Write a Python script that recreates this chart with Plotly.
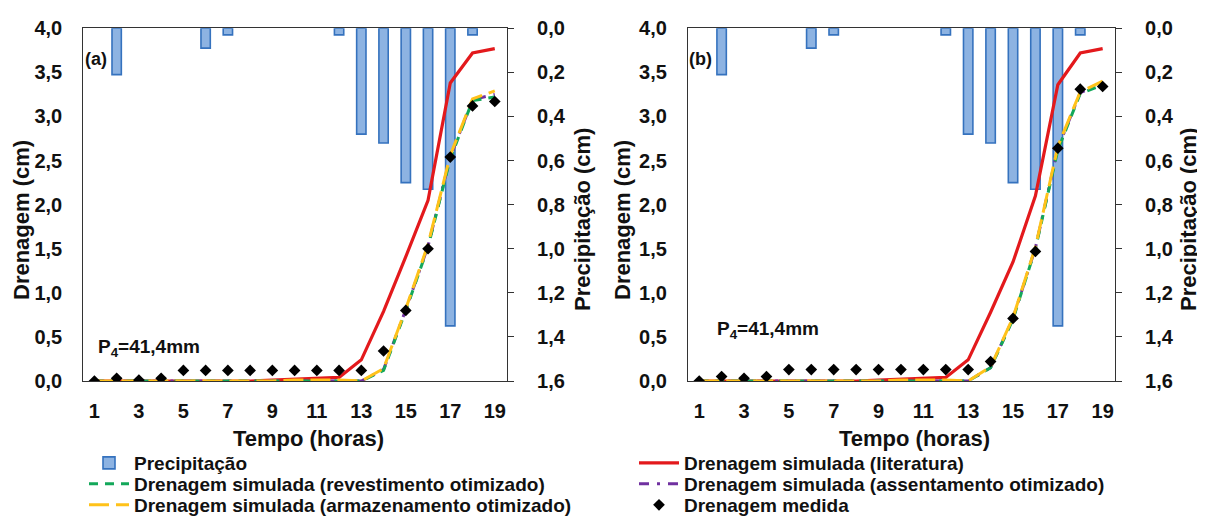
import plotly.graph_objects as go

# ---------------- data ----------------
hours = list(range(1, 20))
hour_ticks = [1, 3, 5, 7, 9, 11, 13, 15, 17, 19]

precip_a = [0, 0.21, 0, 0, 0, 0.09, 0.03, 0, 0, 0, 0, 0.03, 0.48, 0.52, 0.70, 0.73, 1.35, 0.03, 0]
precip_b = [0, 0.21, 0, 0, 0, 0.09, 0.03, 0, 0, 0, 0, 0.03, 0.48, 0.52, 0.70, 0.73, 1.35, 0.03, 0]

lit_a = [0, 0, 0, 0, 0, 0, 0, 0, 0.01, 0.02, 0.03, 0.04, 0.24, 0.79, 1.41, 2.05, 3.38, 3.72, 3.77]
rev_a = [0, 0, 0, 0, 0, 0, 0, 0, 0, 0, 0, 0, 0, 0.12, 0.80, 1.52, 2.52, 3.18, 3.22]
ass_a = [0, 0, 0, 0, 0, 0, 0, 0, 0, 0, 0, 0, 0, 0.13, 0.81, 1.53, 2.54, 3.19, 3.25]
arm_a = [0, 0, 0, 0, 0, 0, 0, 0, 0, 0.01, 0.01, 0.01, 0, 0.14, 0.82, 1.55, 2.56, 3.20, 3.29]
med_a = [0, 0.03, 0.01, 0.03, 0.12, 0.12, 0.12, 0.12, 0.12, 0.12, 0.12, 0.12, 0.12, 0.34, 0.80, 1.50, 2.54, 3.12, 3.17]

lit_b = [0, 0, 0, 0, 0, 0, 0, 0, 0.01, 0.02, 0.03, 0.04, 0.24, 0.78, 1.35, 2.10, 3.36, 3.72, 3.77]
rev_b = [0, 0, 0, 0, 0, 0, 0, 0, 0, 0, 0, 0, 0, 0.15, 0.70, 1.50, 2.62, 3.26, 3.36]
ass_b = [0, 0, 0, 0, 0, 0, 0, 0, 0, 0, 0, 0, 0, 0.15, 0.71, 1.51, 2.64, 3.27, 3.38]
arm_b = [0, 0, 0, 0, 0, 0, 0, 0, 0, 0.01, 0.01, 0.01, 0, 0.16, 0.72, 1.52, 2.66, 3.28, 3.40]
med_b = [0, 0.05, 0.03, 0.05, 0.13, 0.13, 0.13, 0.13, 0.13, 0.13, 0.13, 0.13, 0.13, 0.22, 0.71, 1.47, 2.64, 3.31, 3.34]

names = {
    "precip": "Precipitação",
    "lit": "Drenagem simulada (literatura)",
    "rev": "Drenagem simulada (revestimento otimizado)",
    "ass": "Drenagem simulada (assentamento otimizado)",
    "arm": "Drenagem simulada (armazenamento otimizado)",
    "med": "Drenagem medida",
}

# ---------------- styles ----------------
FONT = "Liberation Sans, Arial, sans-serif"
C_BAR = "#8DB3E2"
C_BAR_LINE = "#3572BE"
C_RED = "#E3191C"
C_GREEN = "#13A85A"
C_PURPLE = "#7030A0"
C_YELLOW = "#FFC21A"
C_AX = "#333333"

# page body has an 8px margin: figure coordinates = window coordinates - 8
OFF = 8
W, H = 1205 - OFF, 516 - OFF


def px(xw):
    return (xw - OFF) / W


def py(yw):
    return 1 - (yw - OFF) / H


# one legend per entry so each item sits where the reference puts it
LEG = {"precip": "legend", "rev": "legend2", "arm": "legend3",
       "lit": "legend4", "ass": "legend5", "med": "legend6"}

fig = go.Figure()


def add_panel(xa, ya_p, ya_d, precip, lit, rev, ass, arm, med, show):
    bars = [v if v > 0 else None for v in precip]
    fig.add_trace(go.Bar(x=hours, y=bars, name=names["precip"], xaxis=xa, yaxis=ya_p,
                         width=0.42, marker=dict(color=C_BAR, line=dict(color=C_BAR_LINE, width=1.6)),
                         showlegend=show, legend=LEG["precip"]))
    fig.add_trace(go.Scatter(x=hours, y=lit, name=names["lit"], mode="lines", xaxis=xa, yaxis=ya_d,
                             line=dict(color=C_RED, width=3.2), showlegend=show, legend=LEG["lit"]))
    fig.add_trace(go.Scatter(x=hours, y=ass, name=names["ass"], mode="lines", xaxis=xa, yaxis=ya_d,
                             line=dict(color=C_PURPLE, width=3, dash="10px,8px,3px,8px"),
                             showlegend=show, legend=LEG["ass"]))
    fig.add_trace(go.Scatter(x=hours, y=rev, name=names["rev"], mode="lines", xaxis=xa, yaxis=ya_d,
                             line=dict(color=C_GREEN, width=3, dash="9px,7px"),
                             showlegend=show, legend=LEG["rev"]))
    fig.add_trace(go.Scatter(x=hours, y=arm, name=names["arm"], mode="lines", xaxis=xa, yaxis=ya_d,
                             line=dict(color=C_YELLOW, width=3, dash="20px,7px"),
                             showlegend=show, legend=LEG["arm"]))
    fig.add_trace(go.Scatter(x=hours, y=med, name=names["med"], mode="markers", xaxis=xa, yaxis=ya_d,
                             marker=dict(symbol="diamond", color="black", size=9),
                             showlegend=show, legend=LEG["med"]))


add_panel("x", "y", "y2", precip_a, lit_a, rev_a, ass_a, arm_a, med_a, True)
add_panel("x2", "y3", "y4", precip_b, lit_b, rev_b, ass_b, arm_b, med_b, False)

ydom = [py(381), py(28.3)]
tickfont = dict(family=FONT, size=20, color="#111111", weight="bold")


def xax(dom, anchor):
    return dict(domain=dom, anchor=anchor, range=[0.5, 19.55], tickvals=hour_ticks,
                showline=True, mirror=True, linecolor=C_AX, linewidth=1.2, ticks="",
                showgrid=False, zeroline=False, tickfont=tickfont, ticklabelstandoff=12,
                automargin=False)


def yprecip(anchor):
    return dict(domain=ydom, anchor=anchor, side="right", range=[1.6, 0], dtick=0.2, tick0=0,
                tickformat=".1f", showline=True, linecolor=C_AX, linewidth=1.2, ticks="outside",
                ticklen=6, tickcolor=C_AX, showgrid=False, zeroline=False, tickfont=tickfont,
                ticklabelstandoff=19, automargin=False)


def ydrain(anchor, over):
    return dict(anchor=anchor, overlaying=over, side="left", range=[0, 4], dtick=0.5, tick0=0,
                tickformat=".1f", showline=True, linecolor=C_AX, linewidth=1.2, ticks="",
                showgrid=False, zeroline=False, tickfont=tickfont, ticklabelstandoff=16,
                automargin=False)


legfont = dict(family=FONT, size=19, color="#111111", weight="bold")


def leg(xtext, ycenter):
    return dict(x=px(xtext - 51), y=py(ycenter), xanchor="left", yanchor="middle",
                font=legfont, itemwidth=40, bgcolor="rgba(0,0,0,0)", borderwidth=0)


fig.update_layout(
    width=W, height=H,
    margin=dict(l=0, r=0, t=0, b=0, autoexpand=False),
    paper_bgcolor="white", plot_bgcolor="white",
    separators=",.",
    barmode="overlay",
    xaxis=xax([px(83.3), px(507)], "y"),
    yaxis=yprecip("x"),
    yaxis2=ydrain("x", "y"),
    xaxis2=xax([px(688), px(1115)], "y3"),
    yaxis3=yprecip("x2"),
    yaxis4=ydrain("x2", "y3"),
    legend=leg(135, 463),
    legend2=leg(135, 484),
    legend3=leg(135, 505),
    legend4=leg(685, 463),
    legend5=leg(685, 484),
    legend6=leg(685, 505),
)

titlefont = dict(family=FONT, size=22, color="#111111", weight="bold")
ann = []
for xc, txt in [(22, "Drenagem (cm)"), (583, "Precipitação (cm)"),
                (623, "Drenagem (cm)"), (1189, "Precipitação (cm)")]:
    ann.append(dict(x=px(xc), y=py(220), xref="paper", yref="paper", text=txt,
                    textangle=-90, showarrow=False, font=titlefont,
                    xanchor="center", yanchor="middle"))
for xc in [308, 914]:
    ann.append(dict(x=px(xc), y=py(438), xref="paper", yref="paper", text="Tempo (horas)",
                    showarrow=False, font=titlefont, xanchor="center", yanchor="middle"))
for x0, lab in [(83, "(a)"), (687, "(b)")]:
    ann.append(dict(x=px(x0), y=py(59), xref="paper", yref="paper", text=lab,
                    showarrow=False, font=dict(family=FONT, size=18, color="#111111", weight="bold"),
                    xanchor="left", yanchor="middle"))
for x0, yc in [(96, 348), (715, 330)]:
    ann.append(dict(x=px(x0), y=py(yc), xref="paper", yref="paper",
                    text="P<sub>4</sub>=41,4mm", showarrow=False,
                    font=dict(family=FONT, size=19, color="#111111", weight="bold"),
                    xanchor="left", yanchor="middle"))
fig.update_layout(annotations=ann)

fig.write_html("out.html")
